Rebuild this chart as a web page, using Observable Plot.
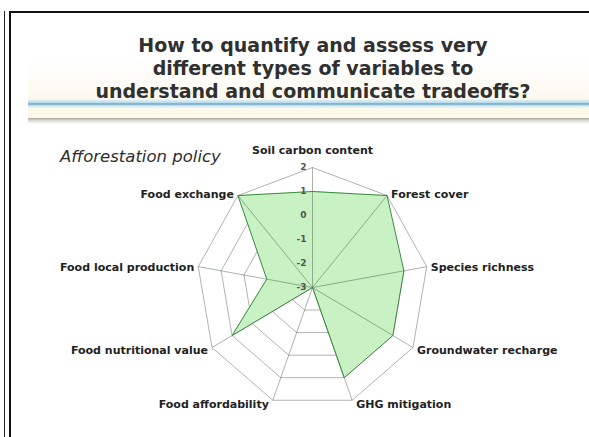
<!DOCTYPE html>
<html>
<head>
<meta charset="utf-8">
<script src="https://cdn.jsdelivr.net/npm/d3@7"></script>
<script src="https://cdn.jsdelivr.net/npm/@observablehq/plot@0.6"></script>
<style>
  html, body { margin: 0; padding: 0; background: #fff; }
  #page { position: relative; width: 589px; height: 437px; overflow: hidden; background: #fff; }
  .abs { position: absolute; }
  #title { left: 0; width: 626px; top: 34px; text-align: center; font-family: "DejaVu Sans", sans-serif; font-weight: bold; font-size: 19px; line-height: 23px; color: #303030; }
  #subtitle { left: 60px; top: 149px; font-family: "DejaVu Sans", sans-serif; font-style: italic; font-size: 16.5px; line-height: 16.5px; color: #2e2e2e; }
  #chart { left: 0; top: 130px; }
</style>
</head>
<body>
<div id="page">
  <div class="abs" style="left:28px; top:60px; width:561px; height:39px; background: linear-gradient(to bottom, rgba(253,250,240,0), #fcf9ee);"></div>
  <div class="abs" style="left:28px; top:99px; width:561px; height:9px; background: linear-gradient(to bottom, #eef8fc, #b9dcea 40%, #6aa3c0 55%, #cfe8f2 75%, #f2f9fb);"></div>
  <div class="abs" style="left:28px; top:108px; width:561px; height:10px; background: #fcf9ea;"></div>
  <div class="abs" style="left:28px; top:118px; width:561px; height:6px; background: linear-gradient(to bottom, #a8a89e, #d8d8d0 40%, #ffffff);"></div>
  <div class="abs" style="left:9px; top:11px; width:2px; height:426px; background:#111;"></div>
  <div class="abs" style="left:9px; top:11px; width:580px; height:2px; background:#111;"></div>
  <div class="abs" style="left:4px; top:11px; width:1px; height:426px; background:#222;"></div>
  <div id="title" class="abs">How to quantify and assess very<br>different types of variables to<br>understand and communicate tradeoffs?</div>
  <div id="subtitle" class="abs">Afforestation policy</div>
  <div id="chart" class="abs"></div>
</div>
<script>
// ---- data ----
const axes = ["Soil carbon content", "Forest cover", "Species richness", "Groundwater recharge", "GHG mitigation", "Food affordability", "Food nutritional value", "Food local production", "Food exchange"];
const values = [1, 2, 1, 1, 1, -3, 1, -1, 2];
const ringLevels = [-2, -1, 0, 1, 2];
const tickValues = [2, 1, 0, -1, -2, -3];
const tickLabels = ["2", "1", "0", "-1", "-2", "-3"];
const minV = -3, maxV = 2;

// ---- geometry helpers (unit polar -> cartesian, scaled by Plot) ----
const n = axes.length;
const ang = i => i * 2 * Math.PI / n;
const pt = (v, i) => {
  const r = (v - minV) / (maxV - minV);
  return {x: r * Math.sin(ang(i)), y: r * Math.cos(ang(i))};
};

const rings = ringLevels.flatMap(lv =>
  d3.range(n + 1).map(i => ({level: lv, ...pt(lv, i % n)})));
const poly = d3.range(n + 1).map(i => ({...pt(values[i % n], i % n)}));
const spokes = axes.map((a, i) => ({name: a, i, ...pt(maxV, i)}));
const ticks = tickValues.map((v, k) => ({label: tickLabels[k], ...pt(v, 0)}));

const side = i => {
  const s = Math.sin(ang(i));
  return Math.abs(s) < 1e-6 ? "top" : (s > 0 ? "right" : "left");
};

const cx = 312, cy = 157, Rx = 116, Ry = 120;
const font = "DejaVu Sans";
// small vertical nudge of side labels (pixels -> y units)
const labelY = d => d.y - (1 - 3 * Math.cos(ang(d.i))) / Ry;

const labelStyle = {fontSize: 11, fontWeight: "bold", fill: "#222"};

const chart = Plot.plot({
  width: 589,
  height: 307,
  margin: 0,
  x: {domain: [-1, 1], range: [cx - Rx, cx + Rx], axis: null},
  y: {domain: [-1, 1], range: [cy + Ry, cy - Ry], axis: null},
  style: {background: "transparent", fontFamily: font, overflow: "visible"},
  marks: [
    Plot.line(rings, {x: "x", y: "y", z: "level", stroke: "#b3b3b3", strokeWidth: 1}),
    Plot.area(poly, {x1: "x", y1: "y", x2: d => 0, y2: d => 0, fill: "#c8f1c4", curve: "linear"}),
    Plot.link(spokes, {x1: d => 0, y1: d => 0, x2: "x", y2: "y", stroke: "#3a4a3a", strokeOpacity: 0.42, strokeWidth: 1}),
    Plot.line(poly, {x: "x", y: "y", stroke: "#3a8a40", strokeWidth: 1}),
    Plot.text(ticks, {x: "x", y: "y", text: "label", dx: -6, textAnchor: "end", fontSize: 9, fontWeight: "bold", fill: "#555"}),
    Plot.text(spokes.filter(d => side(d.i) === "top"), {x: "x", y: "y", text: "name", dy: -17, textAnchor: "middle", ...labelStyle}),
    Plot.text(spokes.filter(d => side(d.i) === "right"), {x: "x", y: labelY, text: "name", dx: 4, textAnchor: "start", ...labelStyle}),
    Plot.text(spokes.filter(d => side(d.i) === "left"), {x: "x", y: labelY, text: "name", dx: -4, textAnchor: "end", ...labelStyle})
  ]
});
document.getElementById("chart").appendChild(chart);
</script>
</body>
</html>
